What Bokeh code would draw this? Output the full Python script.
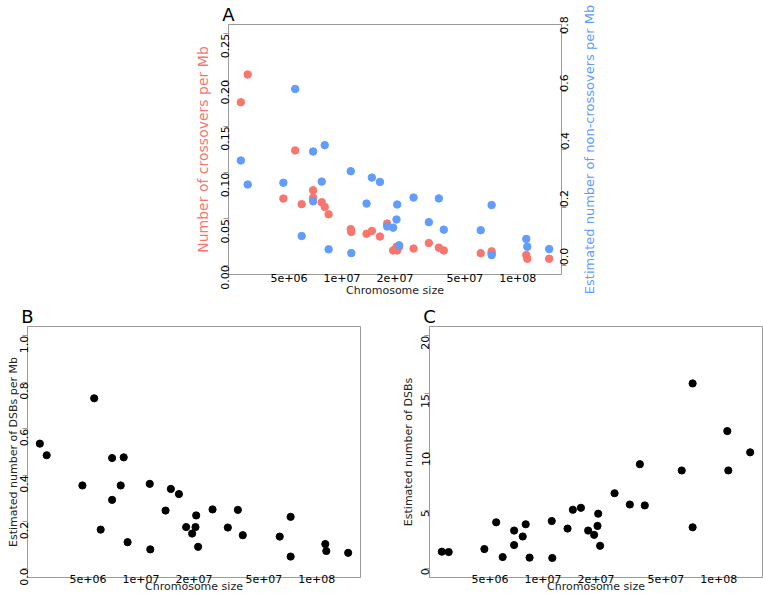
import math
from bokeh.plotting import figure
from bokeh.models import Range1d, LinearAxis, FixedTicker, PrintfTickFormatter, Title
from bokeh.layouts import column, row
from bokeh.embed import file_html
from bokeh.resources import INLINE

# ---------------- data ----------------
chrom_size = [2.661e6, 2.911e6, 4.645e6, 5.420e6, 5.902e6, 6.855e6, 6.855e6, 7.674e6,
              7.980e6, 8.395e6, 1.122e7, 1.130e7, 1.380e7, 1.479e7, 1.644e7, 1.807e7,
              1.954e7, 2.042e7, 2.061e7, 2.113e7, 2.553e7, 3.119e7, 3.556e7, 3.793e7,
              6.152e7, 7.096e7, 7.096e7, 1.117e8, 1.132e8, 1.507e8]
co_per_mb = [0.176, 0.206, 0.072, 0.124, 0.066, 0.081, 0.073, 0.068, 0.063, 0.055,
             0.039, 0.036, 0.034, 0.037, 0.031, 0.045, 0.016, 0.020, 0.016, 0.020,
             0.018, 0.024, 0.019, 0.016, 0.013, 0.013, 0.015, 0.011, 0.007, 0.007]
nco_per_mb = [0.362, 0.279, 0.285, 0.609, 0.101, 0.393, 0.221, 0.289, 0.415, 0.055,
              0.325, 0.042, 0.213, 0.303, 0.288, 0.134, 0.130, 0.158, 0.210, 0.069,
              0.234, 0.149, 0.231, 0.123, 0.121, 0.208, 0.035, 0.091, 0.064, 0.056]
dsb_per_mb = [0.536, 0.486, 0.356, 0.731, 0.166, 0.474, 0.294, 0.356, 0.477, 0.112,
              0.363, 0.081, 0.248, 0.341, 0.319, 0.177, 0.149, 0.177, 0.227, 0.092,
              0.253, 0.175, 0.251, 0.142, 0.136, 0.221, 0.050, 0.104, 0.074, 0.066]
dsb_count = [1.42, 1.39, 1.65, 3.95, 0.96, 3.24, 1.99, 2.73, 3.78, 0.91,
             4.06, 0.88, 3.41, 5.03, 5.20, 3.24, 2.87, 3.64, 4.69, 1.93,
             6.45, 5.48, 8.95, 5.40, 8.41, 15.9, 3.52, 11.8, 8.41, 9.97]

x_ticks = [5e6, 1e7, 2e7, 5e7, 1e8]
x_tick_labels = ["5e+06", "1e+07", "2e+07", "5e+07", "1e+08"]
co_ticks = [0.0, 0.05, 0.10, 0.15, 0.20, 0.25]
nco_ticks = [0.0, 0.2, 0.4, 0.6, 0.8]
dsbmb_ticks = [0.0, 0.2, 0.4, 0.6, 0.8, 1.0]
dsb_ticks = [0, 5, 10, 15, 20]

RED = "#F8766D"
BLUE = "#619CFF"
BOX = "#9b9b9b"
FONT = "DejaVu Sans"


def pad(lo, hi, f=0.04):
    d = (hi - lo) * f
    return lo - d, hi + d


lx0, lx1 = pad(math.log10(min(chrom_size)), math.log10(max(chrom_size)))


def make_fig(width, height, mbl, mbr, mbt, mbb, y_lo, y_hi):
    p = figure(width=width, height=height, x_axis_type="log",
               x_range=Range1d(10 ** lx0, 10 ** lx1), y_range=Range1d(y_lo, y_hi),
               output_backend="svg", toolbar_location=None, title=None,
               min_border_left=mbl, min_border_right=mbr,
               min_border_top=mbt, min_border_bottom=mbb)
    p.grid.visible = False
    p.outline_line_color = BOX
    p.outline_line_width = 1
    p.background_fill_color = "white"
    p.border_fill_color = "white"
    return p


def style_axis(ax, ticks, vertical, label_size="11px"):
    ax.ticker = FixedTicker(ticks=ticks)
    ax.major_tick_out = 5
    ax.major_tick_in = 0
    ax.minor_tick_out = 0
    ax.minor_tick_in = 0
    ax.major_tick_line_color = BOX
    ax.axis_line_color = BOX
    ax.major_label_text_font = FONT
    ax.major_label_text_font_size = "11px"
    ax.major_label_text_color = "black"
    ax.axis_label_text_font = FONT
    ax.axis_label_text_font_style = "normal"
    ax.axis_label_text_font_size = label_size
    if vertical:
        ax.major_label_orientation = math.pi / 2


def style_x(p, lab_st, title_st):
    ax = p.xaxis[0]
    style_axis(ax, x_ticks, False)
    ax.major_label_overrides = {float(t): s for t, s in zip(x_ticks, x_tick_labels)}
    ax.major_label_standoff = lab_st
    ax.axis_label = "Chromosome size"
    ax.axis_label_standoff = title_st
    ax.axis_label_text_color = "#222222"


def label_axis(text, size, color, standoff):
    """A tick-less axis whose only content is its title text."""
    ax = LinearAxis(ticker=FixedTicker(ticks=[]), axis_label=text)
    ax.major_tick_out = 0
    ax.major_tick_in = 0
    ax.minor_tick_out = 0
    ax.minor_tick_in = 0
    ax.major_label_standoff = 0
    ax.axis_line_color = None
    ax.axis_label_standoff = standoff
    ax.axis_label_text_font = FONT
    ax.axis_label_text_font_size = size
    ax.axis_label_text_font_style = "normal"
    ax.axis_label_text_color = color
    return ax


def panel_letter(p, text):
    ax = label_axis(text, "18px", "black", 0)
    if "axis_label_align" in ax.properties():
        ax.axis_label_align = "start"
        p.add_layout(ax, "above")
    else:
        p.add_layout(Title(text=text, align="left", standoff=-9, text_font=FONT,
                           text_font_size="18px", text_font_style="normal"), "above")


# ---------------- panel A ----------------
TOP, A_BOTTOM, A_H, A_W = 22, 28, 302, 578
pA = make_fig(A_W, A_H, 228, A_W - 228 - 333, TOP, A_BOTTOM, *pad(0.0, 0.25))
pA.extra_y_ranges = {"nco": Range1d(*pad(0.0, 0.8))}
style_x(pA, -6, -1)
ya = pA.yaxis[0]
style_axis(ya, co_ticks, True, "14px")
ya.formatter = PrintfTickFormatter(format="%.2f")
ya.major_label_standoff = -2
ya.axis_label = "Number of crossovers per Mb"
ya.axis_label_text_color = RED
ya.axis_label_standoff = 4

yr = LinearAxis(y_range_name="nco")
style_axis(yr, nco_ticks, True)
yr.formatter = PrintfTickFormatter(format="%.1f")
yr.major_label_standoff = -2
pA.add_layout(yr, "right")

pA.scatter(chrom_size, co_per_mb, size=7.5, fill_color=RED, line_color=RED)
pA.scatter(chrom_size, nco_per_mb, size=7.5, fill_color=BLUE, line_color=BLUE,
           y_range_name="nco")
panel_letter(pA, "A")

# strip to the right of panel A carrying the blue axis title (read bottom-to-top)
pL = figure(width=763 - A_W, height=A_H, x_range=Range1d(0, 1), y_range=Range1d(0, 1),
            output_backend="svg", toolbar_location=None, title=None,
            x_axis_location=None, y_axis_location=None,
            min_border_left=0, min_border_right=0,
            min_border_top=TOP, min_border_bottom=A_BOTTOM)
pL.grid.visible = False
pL.outline_line_color = None
pL.add_layout(label_axis("Estimated number of non-crossovers per Mb", "13px", BLUE, 0),
              "left")

# ---------------- panel B ----------------
R_H, R_TOP, R_BOTTOM = 296, 22, 21
pB = make_fig(385, R_H, 27, 25, R_TOP, R_BOTTOM, *pad(0.0, 1.0))
style_x(pB, -8, -6)
yb = pB.yaxis[0]
style_axis(yb, dsbmb_ticks, True)
yb.formatter = PrintfTickFormatter(format="%.1f")
yb.major_label_standoff = -2
yb.axis_label = "Estimated number of DSBs per Mb"
yb.axis_label_text_color = "#222222"
yb.axis_label_standoff = -6
pB.scatter(chrom_size, dsb_per_mb, size=7.2, fill_color="black", line_color="black")
panel_letter(pB, "B")

# ---------------- panel C ----------------
pC = make_fig(378, R_H, 44, 1, R_TOP, R_BOTTOM, *pad(0.0, 20.0))
style_x(pC, -8, -6)
yc = pC.yaxis[0]
style_axis(yc, dsb_ticks, True)
yc.formatter = PrintfTickFormatter(format="%d")
yc.major_label_standoff = -1
yc.axis_label = "Estimated number of DSBs"
yc.axis_label_text_color = "#222222"
yc.axis_label_standoff = 0
pC.scatter(chrom_size, dsb_count, size=7.2, fill_color="black", line_color="black")
panel_letter(pC, "C")

layout = column(row(pA, pL), row(pB, pC))
open("out.html", "w").write(file_html(layout, INLINE))
